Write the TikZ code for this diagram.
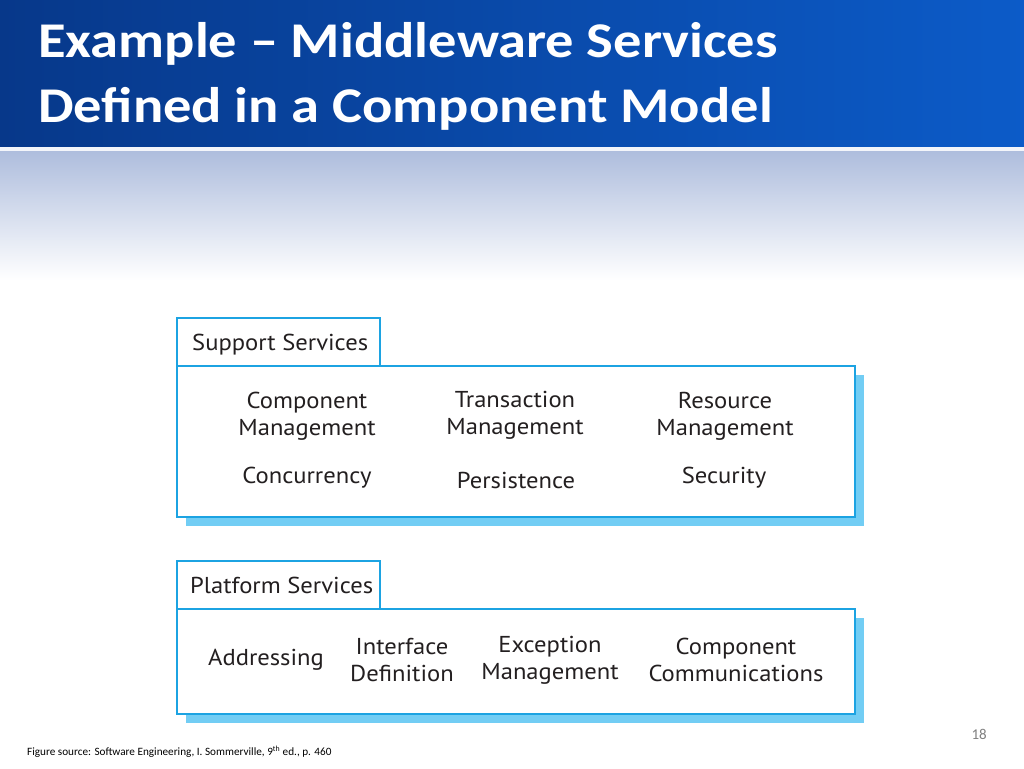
\documentclass[tikz,border=0pt]{standalone}
\usepackage{fontspec}
\setmainfont{Carlito}
\newfontfamily\headfont[FakeStretch=1.13,Ligatures=TeX]{Carlito}
\newfontfamily\figfont[FakeStretch=1.07,Ligatures=TeX]{PT Sans}
\definecolor{headdark}{HTML}{07388A}
\definecolor{headlight}{HTML}{0C5BC8}
\definecolor{haze}{HTML}{AEBDDD}
\definecolor{boxblue}{HTML}{1CA3E2}
\definecolor{shadeblue}{HTML}{72CDF4}
\definecolor{inkgray}{HTML}{231F20}

\begin{document}
\begin{tikzpicture}[x=1pt,y=-1pt,
    title/.style={anchor=base west,inner sep=0pt,text=white,font=\headfont\bfseries\fontsize{50}{56}\selectfont},
    tab/.style={anchor=base west,inner sep=0pt,text=inkgray,font=\figfont\fontsize{23}{27}\selectfont},
    item/.style={align=center,inner sep=0pt,text=inkgray,font=\figfont\fontsize{23}{27}\selectfont},
    frame/.style={draw=boxblue,line width=2.5pt,fill=white}]
      \useasboundingbox (0,0) rectangle (1024,768);
      \fill[white] (0,0) rectangle (1024,768);
      \shade[top color=haze,bottom color=white] (0,151) rectangle (1024,280);
      \shade[left color=headdark,right color=headlight] (0,0) rectangle (1024,147);
      \fill[white!85!haze] (0,147) rectangle (1024,151);
      \node[title] (tla) at (38,57) {Example – Middleware Services};
      \node[title] (tlb) at (38,122) {Defined in a Component Model};
      \foreach \top/\bot in {318/517,561/714} {
        \fill[shadeblue] (186,\top+57) rectangle (864,\bot+9);
        \draw[frame] (177,\top+48) rectangle (855,\bot);
        \draw[frame] (177,\top) rectangle (380,\top+48);
      }
      \node[tab] (sup) at (192,350) {Support Services};
      \node[tab] (plat) at (190,593) {Platform Services};
      \foreach \n/\x/\y/\t in {cmg/307/416/{Component\\Management},tmg/515/415/{Transaction\\Management},rmg/725/416/{Resource\\Management},
        conc/307/478/{Concurrency},pers/516/480/{Persistence},sec/724/478/{Security},
        addr/266/660/{Addressing},intf/402/660/{Interface\\Definition},exc/550/660/{Exception\\Management},ccom/736/660/{Component\\Communications}} {
        \node[item] (\n) at (\x,\y) {\t};
      }
      \node[anchor=base west,inner sep=0pt,font=\fontsize{11.2}{13}\selectfont] (src) at (27,755) {Figure source: Software Engineering, I. Sommerville, 9\textsuperscript{th} ed., p. 460};
      \node[anchor=base east,inner sep=0pt,text=black!50,font=\fontsize{15}{18}\selectfont] (pg) at (987,739) {18};
    \end{tikzpicture}
\end{document}
